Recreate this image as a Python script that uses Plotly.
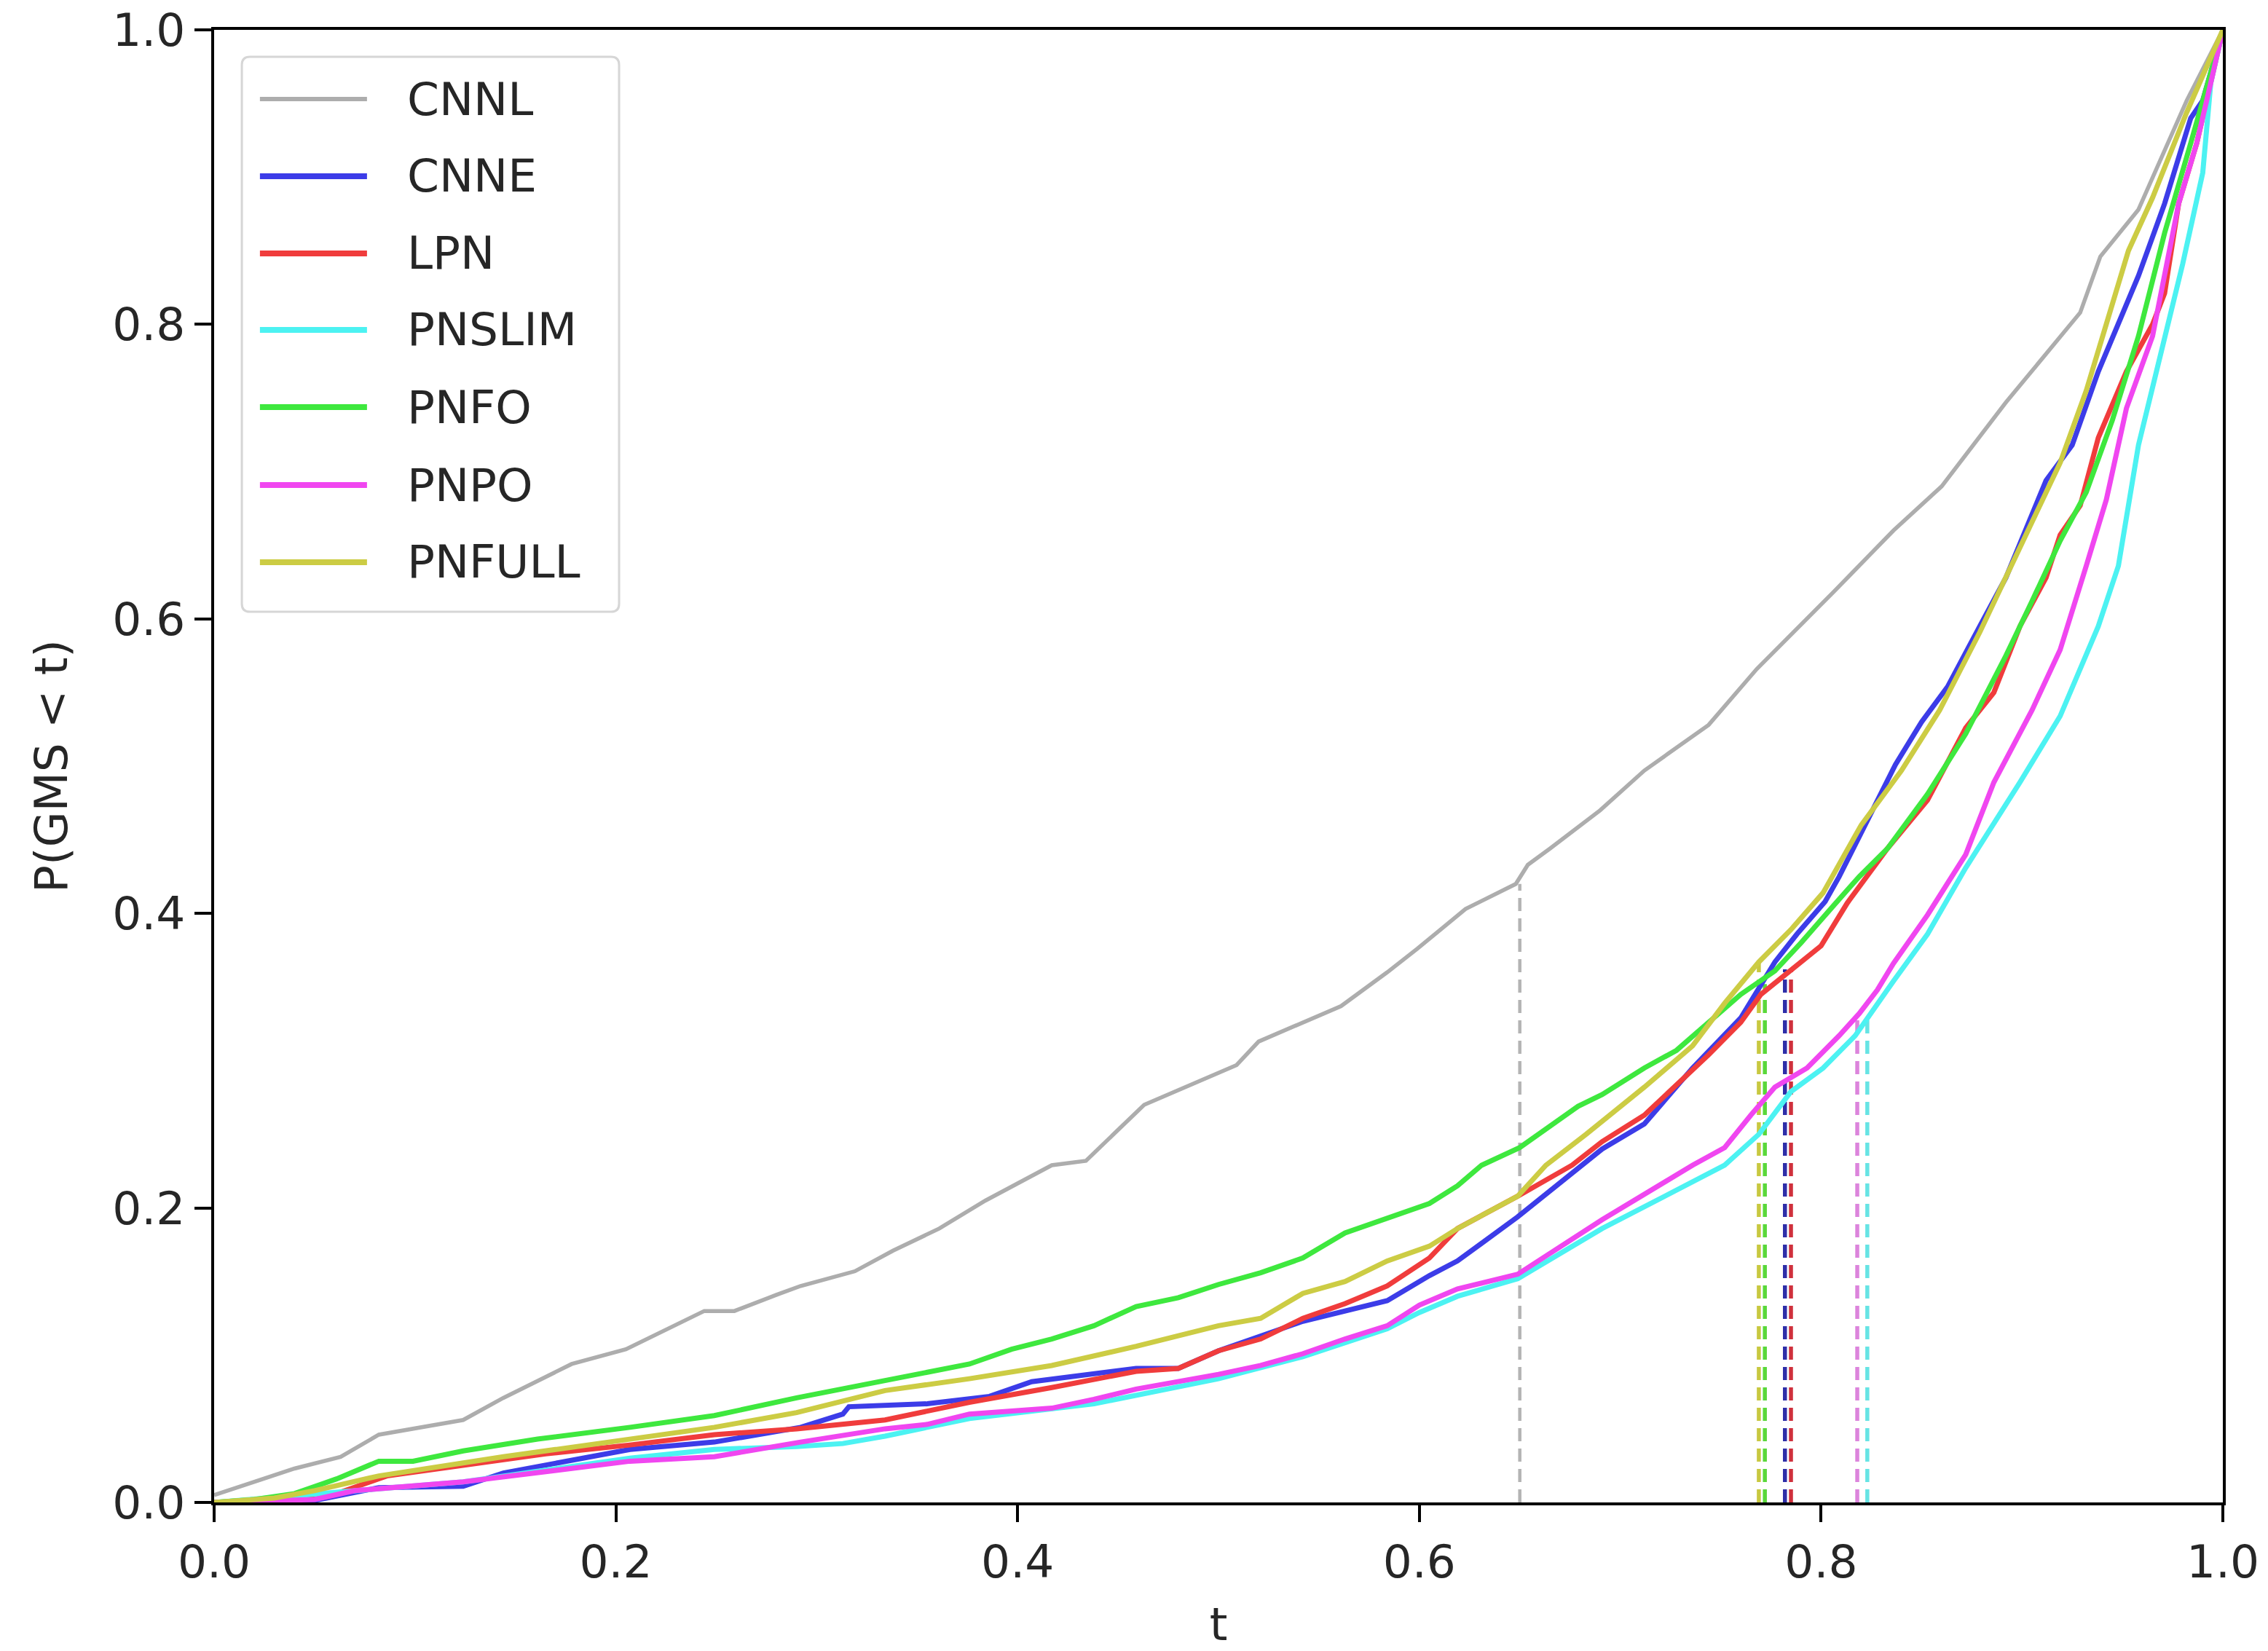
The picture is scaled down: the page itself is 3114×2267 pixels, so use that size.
import plotly.graph_objects as go

cnnl_t = [0, 0.04, 0.063, 0.082, 0.124, 0.144, 0.178, 0.205, 0.244, 0.259, 0.28, 0.292, 0.319, 0.338,
          0.361, 0.384, 0.417, 0.434, 0.463, 0.509, 0.52, 0.561, 0.584, 0.599, 0.623, 0.648, 0.654,
          0.665, 0.69, 0.712, 0.744, 0.768, 0.806, 0.836, 0.86, 0.892, 0.929, 0.939, 0.958, 0.982, 1.0]
cnnl_p = [0.005, 0.023, 0.031, 0.046, 0.056, 0.071, 0.094, 0.104, 0.130, 0.130, 0.141, 0.147, 0.157, 0.171,
          0.186, 0.205, 0.229, 0.232, 0.270, 0.297, 0.313, 0.337, 0.360, 0.376, 0.403, 0.420, 0.433,
          0.444, 0.470, 0.497, 0.528, 0.566, 0.618, 0.660, 0.690, 0.747, 0.808, 0.846, 0.878, 0.952, 1.0]

cnne_t = [0, 0.045, 0.082, 0.124, 0.144, 0.207, 0.249, 0.292, 0.313, 0.316, 0.355, 0.386, 0.407, 0.459,
          0.48, 0.5, 0.542, 0.563, 0.584, 0.605, 0.619, 0.649, 0.691, 0.712, 0.736, 0.76, 0.777, 0.788,
          0.802, 0.809, 0.826, 0.837, 0.85, 0.863, 0.879, 0.892, 0.912, 0.925, 0.938, 0.952, 0.958,
          0.971, 0.984, 0.99, 1.0]
cnne_p = [0, 0, 0.010, 0.011, 0.020, 0.036, 0.041, 0.051, 0.060, 0.065, 0.067, 0.072, 0.082, 0.091,
          0.091, 0.103, 0.123, 0.130, 0.137, 0.154, 0.164, 0.194, 0.240, 0.257, 0.295, 0.329, 0.367, 0.386,
          0.408, 0.425, 0.472, 0.501, 0.530, 0.554, 0.595, 0.628, 0.694, 0.718, 0.768, 0.813, 0.833,
          0.882, 0.940, 0.952, 1.0]

lpn_t = [0, 0.04, 0.061, 0.086, 0.165, 0.207, 0.249, 0.29, 0.334, 0.376, 0.417, 0.459, 0.48, 0.5, 0.521,
         0.542, 0.563, 0.584, 0.605, 0.619, 0.649, 0.676, 0.691, 0.712, 0.744, 0.76, 0.77, 0.785, 0.8,
         0.813, 0.833, 0.853, 0.872, 0.886, 0.899, 0.912, 0.919, 0.929, 0.938, 0.952, 0.965, 0.971,
         0.978, 0.987, 1.0]
lpn_p = [0, 0.002, 0.006, 0.018, 0.033, 0.039, 0.046, 0.050, 0.056, 0.068, 0.078, 0.089, 0.091, 0.103, 0.111,
         0.125, 0.135, 0.147, 0.166, 0.186, 0.208, 0.229, 0.245, 0.263, 0.304, 0.326, 0.345, 0.362, 0.378,
         0.407, 0.444, 0.477, 0.526, 0.550, 0.595, 0.628, 0.657, 0.677, 0.723, 0.768, 0.800, 0.821,
         0.882, 0.923, 1.0]

pnslim_t = [0, 0.07, 0.124, 0.207, 0.249, 0.29, 0.313, 0.334, 0.376, 0.438, 0.5, 0.542, 0.584, 0.6, 0.619,
            0.649, 0.691, 0.752, 0.769, 0.785, 0.801, 0.817, 0.825, 0.836, 0.853, 0.872, 0.899, 0.919,
            0.938, 0.948, 0.958, 0.971, 0.98, 0.99, 0.994, 1.0]
pnslim_p = [0, 0.008, 0.014, 0.030, 0.036, 0.038, 0.040, 0.045, 0.057, 0.067, 0.084, 0.099, 0.118, 0.129, 0.140,
            0.152, 0.186, 0.229, 0.250, 0.279, 0.295, 0.317, 0.332, 0.354, 0.386, 0.431, 0.489, 0.534,
            0.595, 0.636, 0.718, 0.792, 0.841, 0.903, 0.964, 1.0]

pnfo_t = [0, 0.02, 0.04, 0.061, 0.082, 0.099, 0.124, 0.161, 0.207, 0.249, 0.29, 0.334, 0.376, 0.397, 0.417,
          0.438, 0.459, 0.48, 0.5, 0.521, 0.542, 0.563, 0.584, 0.605, 0.619, 0.631, 0.65, 0.679, 0.691,
          0.712, 0.728, 0.744, 0.76, 0.777, 0.79, 0.806, 0.819, 0.833, 0.853, 0.872, 0.892, 0.905, 0.919,
          0.932, 0.945, 0.958, 0.971, 0.984, 1.0]
pnfo_p = [0, 0.002, 0.006, 0.016, 0.028, 0.028, 0.035, 0.043, 0.051, 0.059, 0.071, 0.083, 0.094, 0.104, 0.111,
          0.120, 0.133, 0.139, 0.148, 0.156, 0.166, 0.183, 0.193, 0.203, 0.215, 0.229, 0.241, 0.269, 0.277,
          0.295, 0.307, 0.326, 0.345, 0.361, 0.380, 0.405, 0.425, 0.444, 0.481, 0.522, 0.575, 0.612, 0.653,
          0.686, 0.735, 0.792, 0.862, 0.923, 1.0]

pnpo_t = [0, 0.05, 0.07, 0.124, 0.207, 0.249, 0.292, 0.334, 0.355, 0.376, 0.417, 0.438, 0.459, 0.5, 0.521,
          0.542, 0.563, 0.584, 0.6, 0.619, 0.649, 0.691, 0.736, 0.752, 0.765, 0.777, 0.793, 0.809, 0.819,
          0.828, 0.836, 0.853, 0.872, 0.886, 0.905, 0.919, 0.932, 0.942, 0.952, 0.965, 0.978, 0.987,
          0.994, 1.0]
pnpo_p = [0, 0.002, 0.008, 0.014, 0.028, 0.031, 0.041, 0.050, 0.053, 0.060, 0.064, 0.070, 0.077, 0.087, 0.093,
          0.101, 0.111, 0.120, 0.134, 0.145, 0.155, 0.192, 0.229, 0.241, 0.263, 0.282, 0.295, 0.317, 0.332,
          0.348, 0.366, 0.399, 0.440, 0.489, 0.538, 0.579, 0.636, 0.681, 0.743, 0.792, 0.882, 0.923,
          0.964, 1.0]

pnfull_t = [0, 0.03, 0.05, 0.082, 0.144, 0.207, 0.249, 0.29, 0.334, 0.376, 0.417, 0.459, 0.5, 0.521, 0.542,
            0.563, 0.584, 0.605, 0.619, 0.649, 0.663, 0.683, 0.712, 0.736, 0.752, 0.769, 0.785, 0.801,
            0.82, 0.84, 0.859, 0.879, 0.899, 0.919, 0.932, 0.945, 0.953, 0.965, 0.982, 1.0]
pnfull_p = [0, 0.003, 0.008, 0.018, 0.031, 0.043, 0.051, 0.061, 0.076, 0.084, 0.093, 0.106, 0.120, 0.125, 0.142,
            0.150, 0.164, 0.174, 0.186, 0.208, 0.229, 0.250, 0.282, 0.310, 0.339, 0.367, 0.389, 0.414,
            0.460, 0.497, 0.538, 0.591, 0.649, 0.706, 0.755, 0.813, 0.850, 0.886, 0.944, 1.0]

names = ["CNNL", "CNNE", "LPN", "PNSLIM", "PNFO", "PNPO", "PNFULL"]
colors = ["#adadad", "#3c3ce8", "#f03c3c", "#4cf2f2", "#3ee83e", "#f046f0", "#cccc44"]
series_t = [cnnl_t, cnne_t, lpn_t, pnslim_t, pnfo_t, pnpo_t, pnfull_t]
series_p = [cnnl_p, cnne_p, lpn_p, pnslim_p, pnfo_p, pnpo_p, pnfull_p]

# dashed marker lines (position on t, height reached)
dash_t = [0.650, 0.785, 0.782, 0.823, 0.772, 0.818, 0.769]
dash_top = [0.420, 0.362, 0.362, 0.332, 0.352, 0.332, 0.368]
dash_colors = ["#b4b4b4", "#d0303c", "#2e2ea8", "#66e4e4", "#5ad83a", "#dc84dc", "#c8c840"]

font = "DejaVu Sans"
fig = go.Figure()

for t, top, c in zip(dash_t, dash_top, dash_colors):
    fig.add_trace(go.Scatter(x=[t, t], y=[0, top], mode="lines", showlegend=False,
                             line=dict(color=c, width=4.5 if c == "#b4b4b4" else 5.5, dash="18px,10px")))

for n, t, p, c in zip(names, series_t, series_p, colors):
    fig.add_trace(go.Scatter(x=t, y=p, mode="lines", name=n, showlegend=False,
                             line=dict(color=c, width=5.5 if n == "CNNL" else 7)))

# legend box drawn by hand so the sample lines match the original length
x0, x1, y0, y1, rx, ry = 0.0138, 0.2016, 0.6048, 0.9817, 0.004, 0.0055
box = (f"M {x0+rx},{y0} L {x1-rx},{y0} Q {x1},{y0} {x1},{y0+ry} L {x1},{y1-ry} Q {x1},{y1} {x1-rx},{y1} "
       f"L {x0+rx},{y1} Q {x0},{y1} {x0},{y1-ry} L {x0},{y0+ry} Q {x0},{y0} {x0+rx},{y0} Z")
fig.add_shape(type="path", path=box, xref="paper", yref="paper",
              line=dict(color="#d6d6d6", width=3), fillcolor="rgba(255,255,255,0.85)", layer="above")
rows = [0.9530, 0.9006, 0.8482, 0.7963, 0.7438, 0.6909, 0.6385]
for n, c, yy in zip(names, colors, rows):
    fig.add_shape(type="line", xref="paper", yref="paper", x0=0.0228, x1=0.0761, y0=yy, y1=yy,
                  line=dict(color=c, width=6 if n == "CNNL" else 8), layer="above")
    fig.add_annotation(x=0.0954, y=yy, xref="paper", yref="paper", text=n, showarrow=False,
                       xanchor="left", yanchor="middle", font=dict(family=font, size=63, color="#262626"))

ticks = [0, 0.2, 0.4, 0.6, 0.8, 1.0]
tick_text = ["0.0", "0.2", "0.4", "0.6", "0.8", "1.0"]
axis = dict(range=[0, 1], tickvals=ticks, ticktext=tick_text, showgrid=False, zeroline=False,
            showline=True, linecolor="black", linewidth=4, mirror=True, automargin=False,
            ticks="outside", ticklen=23, tickwidth=3.5, tickcolor="black", ticklabeloverflow="allow",
            tickfont=dict(family=font, size=63, color="#262626"))

fig.update_layout(
    width=3114, height=2267,
    margin=dict(l=294, r=62, t=41, b=204),
    paper_bgcolor="white", plot_bgcolor="white",
    xaxis=dict(axis, title=dict(text="t", font=dict(family=font, size=63, color="#262626"), standoff=32)),
    yaxis=dict(axis, title=dict(text="P(GMS < t)", font=dict(family=font, size=63, color="#262626"), standoff=42)),
)

# drop the default page margin so the figure fills the window exactly
fig.write_html("out.html", config={"displayModeBar": False},
               post_script="document.body.style.margin='0';")
